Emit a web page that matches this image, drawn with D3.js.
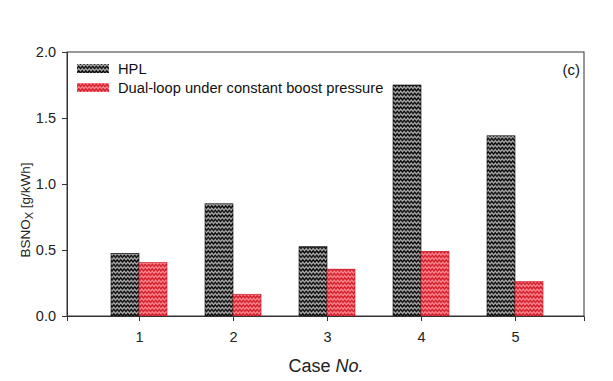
<!DOCTYPE html>
<html><head><meta charset="utf-8">
<script src="https://cdn.jsdelivr.net/npm/d3@7"></script>
<style>body{margin:0;background:#fff}svg{display:block;font-family:Arial,"Liberation Sans",sans-serif}</style>
</head><body><svg id="c" width="613" height="381"></svg>
<script>
const cases = [1, 2, 3, 4, 5];
const hpl = [0.475, 0.85, 0.525, 1.75, 1.365];
const dualLoop = [0.405, 0.165, 0.355, 0.49, 0.26];
const yTicks = [0.0, 0.5, 1.0, 1.5, 2.0];
const seriesNames = ["HPL", "Dual-loop under constant boost pressure"];

const svg = d3.select("#c");
const L = 67, R = 584, T = 52, B = 316;
const x = d3.scaleLinear().domain([0.234, 5.734]).range([L, R]);
const y = d3.scaleLinear().domain([0, 2]).range([B, T]);
const bw = 28;

const defs = svg.append("defs");
function zig(id, bg, fg) {
  const p = defs.append("pattern").attr("id", id).attr("patternUnits", "userSpaceOnUse")
    .attr("width", 7).attr("height", 4.5);
  p.append("rect").attr("width", 7).attr("height", 4.5).attr("fill", bg);
  p.append("path").attr("d", "M-1.75,1 L0,3.2 L1.75,1 L3.5,3.2 L5.25,1 L7,3.2 L8.75,1").attr("fill", "none")
    .attr("stroke", fg).attr("stroke-width", 1.2);
}
zig("pBlack", "#0d0d0d", "#b8b8b8");
zig("pRed", "#d41f2b", "#ff8f97");

// frame
svg.append("rect").attr("x", L).attr("y", T).attr("width", R - L).attr("height", B - T)
  .attr("fill", "none").attr("stroke", "#333").attr("stroke-width", 1);

const series = [
  {vals: hpl, fill: "url(#pBlack)", off: -bw, stroke: "#000"},
  {vals: dualLoop, fill: "url(#pRed)", off: 0, stroke: "#c0101c"}
];
series.forEach(s => {
  svg.append("g").selectAll("rect").data(cases).join("rect")
    .attr("x", (d, i) => x(d) + s.off)
    .attr("y", (d, i) => y(s.vals[i]))
    .attr("width", bw)
    .attr("height", (d, i) => y(0) - y(s.vals[i]))
    .attr("fill", s.fill).attr("stroke", s.stroke).attr("stroke-width", 0.6);
});

// axes
const yAxis = d3.axisLeft(y).tickValues(yTicks).tickFormat(d3.format(".1f")).tickSize(5).tickPadding(6);
const gy = svg.append("g").attr("transform", `translate(${L},0)`).call(yAxis);
const xAxis = d3.axisBottom(x).tickValues(cases).tickFormat(d3.format("d")).tickSize(5).tickPadding(11);
const gx = svg.append("g").attr("transform", `translate(0,${B})`).call(xAxis);
[gy, gx].forEach(g => {
  g.select(".domain").attr("stroke", "#333");
  g.selectAll(".tick line").attr("stroke", "#333");
  g.selectAll(".tick text").attr("font-size", 14.5).attr("fill", "#222").attr("font-family", "Arial, 'Liberation Sans', sans-serif");
});

// y label
const yl = svg.append("text").attr("transform", "translate(30,210) rotate(-90)")
  .attr("text-anchor", "middle").attr("font-size", 13.5).attr("fill", "#222");
yl.append("tspan").text("BSNO");
yl.append("tspan").attr("font-size", 11).attr("dy", 3).text("X");
yl.append("tspan").attr("dy", -3).text(" [g/kWh]");

// x label
const xl = svg.append("text").attr("x", 326).attr("y", 372).attr("text-anchor", "middle")
  .attr("font-size", 18).attr("fill", "#222");
xl.append("tspan").text("Case ");
xl.append("tspan").attr("font-style", "italic").text("No.");

// legend
const fills = ["url(#pBlack)", "url(#pRed)"];
seriesNames.forEach((n, i) => {
  const yy = 64 + i * 19;
  svg.append("rect").attr("x", 77).attr("y", yy).attr("width", 32).attr("height", 9).attr("fill", fills[i]);
  svg.append("text").attr("x", 118).attr("y", yy + 10).attr("font-size", 14.7).attr("fill", "#111").text(n);
});

svg.append("text").attr("x", 580).attr("y", 75).attr("text-anchor", "end").attr("font-size", 15).attr("fill", "#111").text("(c)");
</script></body></html>
